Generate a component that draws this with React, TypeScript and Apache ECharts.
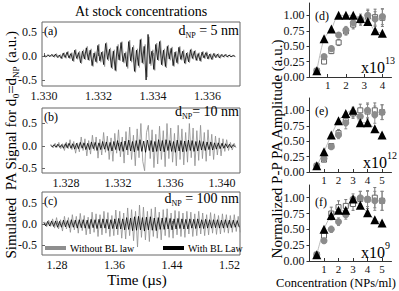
import React, { useEffect, useRef } from 'react';
import * as echarts from 'echarts';

const SERIF = "'Liberation Serif', 'Times New Roman', serif";

// ---------- Left panels: simulated PA signals (peak values) ----------
// (a) d_NP = 5 nm
const aRange = [1.3300, 1.3370];
const aWithout = [
  0.02,-0.02,0.03,-0.02,0.04,-0.03,0.05,-0.04,0.03,-0.06,
  0.07,-0.05,0.1,-0.06,0.07,-0.12,0.14,-0.07,0.1,-0.16,
  0.13,-0.08,0.2,-0.1,0.15,-0.22,0.09,-0.15,0.25,-0.13,
  0.1,-0.22,0.28,-0.1,0.17,-0.27,0.13,-0.32,0.24,-0.1,
  0.3,-0.15,0.09,-0.26,0.33,-0.13,0.22,-0.34,0.15,-0.24,
  0.36,-0.17,0.24,-0.44,0.4,-0.2,0.13,-0.3,0.27,-0.1,
  0.32,-0.2,0.15,-0.25,0.23,-0.09,0.19,-0.22,0.1,-0.17,
  0.2,-0.09,0.13,-0.17,0.08,-0.14,0.15,-0.07,0.12,-0.1,
  0.07,-0.12,0.1,-0.06,0.09,-0.07,0.05,-0.08,0.06,-0.04,
  0.05,-0.05,0.04,-0.03,0.04,-0.03,0.03,-0.02,0.02,-0.02,
];
const aWith = [
  0.01,-0.02,0.02,-0.01,0.03,-0.02,0.04,-0.03,0.02,-0.05,
  0.06,-0.03,0.08,-0.04,0.05,-0.1,0.12,-0.05,0.07,-0.14,
  0.1,-0.06,0.17,-0.08,0.12,-0.2,0.06,-0.12,0.22,-0.1,
  0.08,-0.18,0.26,-0.07,0.14,-0.24,0.1,-0.3,0.2,-0.08,
  0.28,-0.12,0.06,-0.22,0.3,-0.1,0.18,-0.32,0.12,-0.2,
  0.34,-0.14,0.2,-0.5,0.45,-0.16,0.1,-0.28,0.24,-0.08,
  0.3,-0.18,0.12,-0.22,0.2,-0.06,0.16,-0.2,0.08,-0.14,
  0.18,-0.07,0.1,-0.15,0.06,-0.12,0.13,-0.05,0.1,-0.09,
  0.05,-0.1,0.08,-0.04,0.07,-0.06,0.04,-0.07,0.05,-0.03,
  0.04,-0.04,0.03,-0.02,0.03,-0.02,0.02,-0.02,0.01,-0.01,
];
// (b) d_NP = 10 nm
const bRange = [1.3268, 1.3410];
const bWithout = [
  0.03,-0.04,0.06,-0.03,0.08,-0.06,0.05,-0.1,0.09,-0.06,
  0.14,-0.08,0.1,-0.16,0.07,-0.13,0.2,-0.1,0.16,-0.22,
  0.12,-0.18,0.24,-0.1,0.2,-0.27,0.15,-0.2,0.3,-0.14,
  0.22,-0.3,0.18,-0.34,0.28,-0.16,0.36,-0.24,0.2,-0.38,
  0.32,-0.2,0.42,-0.3,0.24,-0.44,0.38,-0.26,0.5,-0.34,
  -0.55,0.3,0.46,-0.28,0.36,-0.48,0.26,-0.4,0.44,-0.3,
  0.34,-0.46,0.5,-0.28,0.4,-0.36,0.28,-0.44,0.46,-0.3,
  0.38,-0.42,0.3,-0.36,0.5,-0.26,0.4,-0.44,0.34,-0.32,
  0.46,-0.28,0.3,-0.34,0.36,-0.22,0.26,-0.3,0.22,-0.2,
  0.18,-0.22,0.16,-0.12,0.14,-0.1,0.08,-0.09,0.06,-0.04,
];
const bWith = [
  0.02,-0.02,0.03,-0.03,0.04,-0.03,0.03,-0.05,0.05,-0.04,
  0.06,-0.05,0.05,-0.07,0.06,-0.06,0.08,-0.05,0.07,-0.08,
  0.06,-0.08,0.09,-0.06,0.08,-0.1,0.07,-0.08,0.1,-0.07,
  0.09,-0.1,0.08,-0.11,0.1,-0.08,0.12,-0.1,0.09,-0.12,
  0.11,-0.09,0.13,-0.11,0.1,-0.13,0.12,-0.1,0.14,-0.12,
  0.11,-0.14,0.13,-0.1,0.12,-0.13,0.1,-0.12,0.14,-0.11,
  0.12,-0.13,0.14,-0.1,0.12,-0.12,0.1,-0.14,0.13,-0.11,
  0.12,-0.13,0.11,-0.12,0.13,-0.1,0.12,-0.12,0.1,-0.11,
  0.12,-0.09,0.1,-0.1,0.09,-0.08,0.09,-0.09,0.07,-0.07,
  0.07,-0.06,0.06,-0.05,0.05,-0.04,0.04,-0.04,0.03,-0.02,
];
// (c) d_NP = 100 nm
const cRange = [1.2615, 1.5335];
const cWithout = [
  0.05,-0.07,0.09,-0.06,0.12,-0.1,0.15,-0.12,0.1,-0.17,
  0.18,-0.12,0.15,-0.2,0.22,-0.14,0.18,-0.22,0.25,-0.16,
  0.2,-0.26,0.16,-0.24,0.28,-0.2,0.24,-0.3,0.22,-0.26,
  0.3,-0.22,0.27,-0.3,0.2,-0.28,0.33,-0.26,0.3,-0.34,
  0.26,-0.36,0.38,-0.28,0.34,-0.4,0.3,-0.55,0.45,-0.32,
  0.4,-0.38,0.3,-0.42,0.36,-0.3,0.4,-0.34,0.28,-0.38,
  0.34,-0.28,0.36,-0.32,0.26,-0.34,0.32,-0.26,0.3,-0.3,
  0.26,-0.32,0.3,-0.24,0.28,-0.3,0.24,-0.28,0.3,-0.24,
  0.26,-0.28,0.22,-0.26,0.27,-0.22,0.24,-0.25,0.2,-0.24,
  0.24,-0.2,0.22,-0.22,0.2,-0.2,0.22,-0.18,0.18,-0.2,
];
const cWith = [
  0.04,-0.05,0.06,-0.05,0.07,-0.06,0.07,-0.08,0.06,-0.08,
  0.09,-0.07,0.08,-0.09,0.1,-0.08,0.09,-0.1,0.1,-0.09,
  0.1,-0.1,0.09,-0.11,0.11,-0.09,0.1,-0.11,0.11,-0.1,
  0.12,-0.1,0.11,-0.12,0.1,-0.11,0.12,-0.12,0.13,-0.12,
  0.12,-0.14,0.15,-0.13,0.14,-0.16,0.17,-0.15,0.18,-0.14,
  0.15,-0.17,0.16,-0.14,0.17,-0.15,0.14,-0.16,0.15,-0.13,
  0.14,-0.13,0.15,-0.12,0.13,-0.14,0.12,-0.12,0.13,-0.11,
  0.12,-0.12,0.11,-0.12,0.12,-0.1,0.11,-0.11,0.12,-0.1,
  0.1,-0.11,0.11,-0.1,0.1,-0.1,0.1,-0.09,0.1,-0.1,
  0.09,-0.1,0.1,-0.09,0.09,-0.09,0.09,-0.08,0.08,-0.08,
];
const aTicks = [1.330, 1.332, 1.334, 1.336];
const bTicks = [1.328, 1.332, 1.336, 1.340];
const cTicks = [1.28, 1.36, 1.44, 1.52];
const signalTicks = [-0.5, 0, 0.5];

// ---------- Right panels: normalized P-P amplitude vs concentration ----------
const dConc = [0.4, 0.8, 1.2, 1.6, 2.0, 2.4, 2.8, 3.2, 3.6, 4.0];
const dTri = [0.1, 0.62, 0.78, 1.0, 1.0, 1.0, 0.95, 0.9, 0.75, 0.71];
const dCirc = [0.1, 0.33, 0.46, 0.68, 0.76, 0.88, 0.94, 1.0, 0.94, 0.98];
const dCircErr = [0, 0.03, 0.04, 0.04, 0.06, 0.07, 0.08, 0.1, 0.12, 0.13];
const dSq = [0.1, 0.25, 0.42, 0.56, 0.74, 0.85, 0.92, 0.98, 0.97, 0.96];
const dSqErr = [0, 0.03, 0.04, 0.05, 0.06, 0.07, 0.08, 0.1, 0.13, 0.14];

const eConc = [0.5, 1.0, 1.5, 2.0, 2.5, 3.0, 3.5, 4.0, 4.5, 5.0];
const eTri = [0.1, 0.33, 0.6, 0.83, 0.95, 1.0, 0.8, 0.8, 0.7, 0.6];
const eCirc = [0.1, 0.22, 0.41, 0.6, 0.8, 0.97, 0.9, 1.0, 0.93, 0.97];
const eCircErr = [0, 0.03, 0.03, 0.06, 0.1, 0.08, 0.08, 0.12, 0.14, 0.12];
const eSq = [0.1, 0.2, 0.42, 0.63, 0.83, 0.95, 1.0, 0.98, 1.0, 0.97];
const eSqErr = [0, 0.03, 0.04, 0.06, 0.08, 0.08, 0.1, 0.12, 0.12, 0.12];

const fConc = [0.5, 1.0, 1.5, 2.0, 2.5, 3.0, 3.5, 4.0, 4.5, 5.0];
const fTri = [0.1, 0.5, 0.72, 0.8, 0.8, 0.98, 0.88, 0.76, 0.65, 0.6];
const fCirc = [0.1, 0.32, 0.5, 0.62, 0.73, 0.98, 1.0, 0.98, 0.95, 0.95];
const fCircErr = [0, 0.04, 0.05, 0.06, 0.07, 0.08, 0.1, 0.12, 0.15, 0.15];
const fSq = [0.1, 0.4, 0.75, 0.85, 0.87, 0.9, 0.98, 0.97, 1.0, 0.95];
const fSqErr = [0, 0.05, 0.1, 0.1, 0.1, 0.1, 0.12, 0.14, 0.16, 0.15];

const ampTicks = [0, 0.25, 0.5, 0.75, 1.0];

const GRAY = '#8e8e8e';

function toSignal(vals: number[], range: number[], shift: number) {
  const n = vals.length;
  const step = (range[1] - range[0]) / (n - 1);
  return vals.map((v, i) => [range[0] + (i + shift) * step, v]);
}

export default function App() {
  const ref = useRef<HTMLDivElement>(null);
  useEffect(() => {
    if (!ref.current) return;
    const chart = echarts.init(ref.current, null, { renderer: 'svg' });

    const leftPanels = [
      { top: 22, height: 64, xMin: 1.32993, xMax: 1.33719, yMin: -0.625, yMax: 0.708, ticks: aTicks, dec: 3, gray: aWithout, black: aWith, range: aRange },
      { top: 108, height: 65, xMin: 1.32615, xMax: 1.34138, yMin: -0.6, yMax: 0.844, ticks: bTicks, dec: 3, gray: bWithout, black: bWith, range: bRange },
      { top: 192, height: 63, xMin: 1.2591, xMax: 1.5346, yMin: -0.74, yMax: 0.76, ticks: cTicks, dec: 2, gray: cWithout, black: cWith, range: cRange },
    ];
    const rightPanels = [
      { top: 3, height: 74, xMax: 4.5, xt: [1, 2, 3, 4], x: dConc, tri: dTri, circ: dCirc, ce: dCircErr, sq: dSq, se: dSqErr },
      { top: 98, height: 74, xMax: 5.65, xt: [1, 2, 3, 4, 5], x: eConc, tri: eTri, circ: eCirc, ce: eCircErr, sq: eSq, se: eSqErr },
      { top: 185, height: 76, xMax: 5.65, xt: [1, 2, 3, 4, 5], x: fConc, tri: fTri, circ: fCirc, ce: fCircErr, sq: fSq, se: fSqErr },
    ];

    const grid: any[] = [];
    const xAxis: any[] = [];
    const yAxis: any[] = [];
    const series: any[] = [];
    const labelStyle = { fontFamily: SERIF, fontSize: 12, color: '#111' };

    leftPanels.forEach((p, k) => {
      grid.push({ left: 42, top: p.top, width: 198, height: p.height, show: true, borderColor: '#666', borderWidth: 1, backgroundColor: 'transparent' });
      xAxis.push({
        type: 'value', gridIndex: k, min: p.xMin, max: p.xMax,
        axisLine: { show: false },
        axisTick: { show: true, inside: true, length: 3, customValues: p.ticks, lineStyle: { color: '#666' } },
        axisLabel: { ...labelStyle, margin: 4, customValues: p.ticks, formatter: (v: number) => v.toFixed(p.dec) },
        splitLine: { show: false },
      });
      yAxis.push({
        type: 'value', gridIndex: k, min: p.yMin, max: p.yMax,
        axisLine: { show: false },
        axisTick: { show: true, inside: true, length: 3, customValues: signalTicks, lineStyle: { color: '#666' } },
        axisLabel: { ...labelStyle, margin: 5, customValues: signalTicks, formatter: (v: number) => v.toFixed(1) },
        splitLine: { show: false },
      });
      series.push({
        type: 'line', name: 'Without BL law', xAxisIndex: k, yAxisIndex: k,
        data: toSignal(p.gray, p.range, 0.5), symbol: 'none', showSymbol: false,
        lineStyle: { width: 0.8, color: GRAY }, itemStyle: { color: GRAY }, z: 2,
      });
      series.push({
        type: 'line', name: 'With BL Law', xAxisIndex: k, yAxisIndex: k,
        data: toSignal(p.black, p.range, 0), symbol: 'none', showSymbol: false,
        lineStyle: { width: 0.8, color: '#000' }, itemStyle: { color: '#000' }, z: 3,
      });
    });

    const errRender = (color: string) => (params: any, api: any) => {
      const x = api.value(0), y = api.value(1), e = api.value(2);
      if (!e) return { type: 'group', children: [] };
      const p1 = api.coord([x, y + e]);
      const p2 = api.coord([x, y - e]);
      const st = { stroke: color, lineWidth: 1 };
      return {
        type: 'group',
        children: [
          { type: 'line', shape: { x1: p1[0], y1: p1[1], x2: p2[0], y2: p2[1] }, style: st },
          { type: 'line', shape: { x1: p1[0] - 1.5, y1: p1[1], x2: p1[0] + 1.5, y2: p1[1] }, style: st },
          { type: 'line', shape: { x1: p2[0] - 1.5, y1: p2[1], x2: p2[0] + 1.5, y2: p2[1] }, style: st },
        ],
      };
    };

    rightPanels.forEach((p, j) => {
      const k = j + 3;
      grid.push({ left: 309.5, top: p.top, width: 82, height: p.height });
      xAxis.push({
        type: 'value', gridIndex: k, min: 0, max: p.xMax,
        axisLine: { show: true, lineStyle: { color: '#333', width: 1 } },
        axisTick: { show: true, inside: true, length: 3, customValues: p.xt, lineStyle: { color: '#333' } },
        axisLabel: { ...labelStyle, fontSize: 11, margin: 2, customValues: p.xt },
        splitLine: { show: false },
      });
      yAxis.push({
        type: 'value', gridIndex: k, min: 0, max: 1.2,
        axisLine: { show: true, lineStyle: { color: '#333', width: 1 } },
        axisTick: { show: true, inside: false, length: 3, customValues: ampTicks, lineStyle: { color: '#333' } },
        axisLabel: { ...labelStyle, margin: 5, customValues: ampTicks, formatter: (v: number) => v.toFixed(2) },
        splitLine: { show: false },
      });
      series.push({
        type: 'line', xAxisIndex: k, yAxisIndex: k, smooth: 0.3, symbol: 'none',
        data: p.x.map((x, i) => [x, p.tri[i]]), lineStyle: { color: '#aaa', width: 0.8 }, z: 1,
      });
      series.push({
        type: 'custom', xAxisIndex: k, yAxisIndex: k, renderItem: errRender('#777'),
        encode: { x: 0, y: 1 }, data: p.x.map((x, i) => [x, p.sq[i], p.se[i]]), z: 2,
      });
      series.push({
        type: 'custom', xAxisIndex: k, yAxisIndex: k, renderItem: errRender('#8a8a8a'),
        encode: { x: 0, y: 1 }, data: p.x.map((x, i) => [x, p.circ[i], p.ce[i]]), z: 2,
      });
      series.push({
        type: 'scatter', xAxisIndex: k, yAxisIndex: k, symbol: 'rect', symbolSize: 5,
        data: p.x.map((x, i) => [x, p.sq[i]]), itemStyle: { color: '#fff', borderColor: '#666', borderWidth: 1, opacity: 1 }, z: 3,
      });
      series.push({
        type: 'scatter', xAxisIndex: k, yAxisIndex: k, symbol: 'circle', symbolSize: 7,
        data: p.x.map((x, i) => [x, p.circ[i]]), itemStyle: { color: '#8c8c8c', opacity: 1 }, z: 4,
      });
      series.push({
        type: 'scatter', xAxisIndex: k, yAxisIndex: k, symbol: 'triangle', symbolSize: 9,
        data: p.x.map((x, i) => [x, p.tri[i]]), itemStyle: { color: '#000', opacity: 1 }, z: 5,
      });
    });

    const subRich = (size: number) => ({
      m: { fontFamily: SERIF, fontSize: size, lineHeight: size + 2, verticalAlign: 'top', color: '#000' },
      s: { fontFamily: SERIF, fontSize: Math.round(size * 0.58), lineHeight: Math.round(size * 0.58), verticalAlign: 'bottom', color: '#000' },
    });
    const supRich = (size: number) => ({
      m: { fontFamily: SERIF, fontSize: size, lineHeight: size + 4, verticalAlign: 'bottom', color: '#000' },
      p: { fontFamily: SERIF, fontSize: Math.round(size * 0.6), lineHeight: Math.round(size * 0.6), verticalAlign: 'top', color: '#000' },
    });
    const plain = (x: number, y: number, text: string, size: number, align = 'left', extra: any = {}) => ({
      type: 'text', x, y, style: { text, fontFamily: SERIF, fontSize: size, fill: '#000', align, verticalAlign: 'middle' }, ...extra,
    });
    const rich = (x: number, y: number, text: string, r: any, align = 'left', extra: any = {}) => ({
      type: 'text', x, y, style: { text, rich: r, align, verticalAlign: 'middle' }, ...extra,
    });

    const graphic: any[] = [
      plain(141, 11, 'At stock concentrations', 14, 'center'),
      plain(44, 31, '(a)', 12),
      plain(44, 117, '(b)', 12),
      plain(44, 201, '(c)', 12),
      rich(239, 31, '{m|d}{s|NP}{m| = 5 nm}', subRich(14), 'right'),
      rich(239, 112, '{m|d}{s|NP}{m|= 10 nm}', subRich(14), 'right'),
      rich(239, 199, '{m|d}{s|NP}{m| = 100 nm}', subRich(14), 'right'),
      plain(315, 16, '(d)', 12),
      plain(315, 111, '(e)', 12),
      plain(315, 202, '(f)', 12),
      rich(395, 65, '{m|x10}{p|13}', supRich(16), 'right'),
      rich(397, 160, '{m|x10}{p|12}', supRich(16), 'right'),
      rich(390, 250, '{m|x10}{p|9}', supRich(16), 'right'),
      rich(12, 145, '{m|Simulated  PA Signal for d}{s|0}{m|=d}{s|NP}{m| (a.u.)}', subRich(15), 'center', { rotation: Math.PI / 2 }),
      plain(277, 149, 'Normalized P-P PA Amplitude (a.u.)', 15, 'center', { rotation: Math.PI / 2 }),
      plain(137, 280, 'Time (\u00b5s)', 15, 'center'),
      plain(336, 283, 'Concentration (NPs/ml)', 12.5, 'center'),
    ];

    const legendBase = {
      orient: 'horizontal', padding: 0, itemWidth: 21, itemHeight: 4, icon: 'rect', itemGap: 4,
      textStyle: { fontFamily: SERIF, fontSize: 10, color: '#000', padding: [0, 0, 0, -1] },
      selectedMode: false,
    };

    chart.setOption({
      animation: false,
      backgroundColor: '#fff',
      grid, xAxis, yAxis, series, graphic,
      legend: [
        { ...legendBase, left: 45, top: 243, data: ['Without BL law'] },
        { ...legendBase, left: 163, top: 243, data: ['With BL Law'] },
      ],
    });
    return () => chart.dispose();
  }, []);
  return <div ref={ref} style={{ width: 399, height: 291, position: 'absolute', left: 0, top: 0 }} />;
}
